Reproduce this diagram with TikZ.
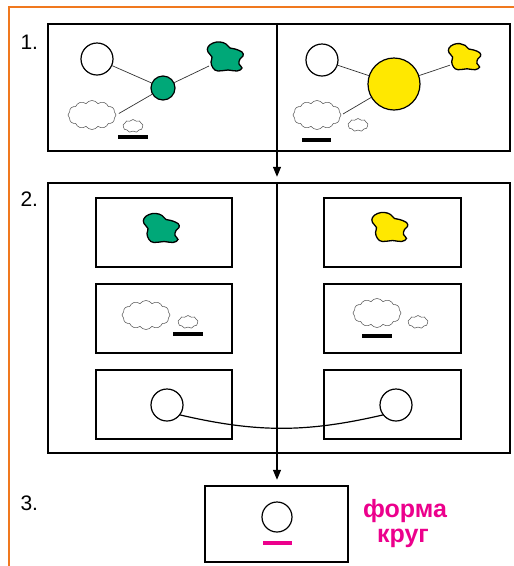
\documentclass[tikz,border=0pt]{standalone}
\usepackage{fontspec}
\setmainfont{Liberation Sans}
\usepackage{xcolor}
\definecolor{framecol}{RGB}{240,120,30}
\definecolor{leafgreen}{RGB}{0,168,120}
\definecolor{sunyellow}{RGB}{255,232,0}
\definecolor{hotpink}{RGB}{236,0,140}
\definecolor{darkgray}{HTML}{333333}
\usetikzlibrary{positioning,shapes.symbols,arrows.meta}

% irregular leaf-like spot, #1 = fill colour
\tikzset{pics/blob/.style={code={
    \draw[line width=1.3pt, fill=#1] plot[smooth cycle, tension=0.7] coordinates {
        (-20,-11) (-15,-15) (-8,-16) (-2,-14) (2,-10) (7,-9) (14,-6) (15,-2)
        (12,1) (11,6) (14,10) (9,13) (0,12) (-10,13) (-15,10) (-17,4)
        (-16,-1) (-20,-6)};
    \coordinate (-in) at (-19,8);
}}}

\begin{document}
\begin{tikzpicture}[x=1pt, y=-1pt, node distance=17pt,
    panel/.style={rectangle, draw, line width=2.4pt, inner sep=0pt},
    card/.style={rectangle, draw, line width=2.4pt, inner sep=0pt, outer sep=0pt,
        minimum width=136pt, minimum height=69pt},
    ball/.style={circle, draw, line width=1.2pt, fill=white, inner sep=0pt,
        minimum size=32pt},
    puff/.style={cloud, cloud puffs=12, cloud puff arc=110, draw=black!65,
        line width=0.55pt, aspect=1.6, inner sep=0pt,
        minimum width=48pt, minimum height=29pt},
    smallpuff/.style={puff, cloud puffs=9, minimum width=20pt, minimum height=13pt},
    link/.style={draw=darkgray, line width=0.7pt},
    bar/.style={line width=3.5pt},
    divider/.style={line width=1.6pt},
    flow/.style={line width=1.2pt, -{Triangle[length=10pt,width=8pt]}, shorten >=5pt},
    num/.style={font=\fontsize{21}{21}\selectfont, anchor=base west},
    word/.style={font=\fontsize{25}{25}\selectfont\bfseries, text=hotpink, anchor=base}]
    \useasboundingbox (0,0) rectangle (514,566);

    % margin rule
    \draw[framecol, line width=2.5pt] (9,566) -- (9,7) -- (514,7);
    \coordinate (mid) at (277,0);

    % step 1
    \node[num] (N1) at (17,49) {1.};
    \node[panel, minimum width=462pt, minimum height=127pt] (P1) at (279,87.5) {};
    \draw[divider] (P1.north -| mid) -- (P1.south -| mid);

    \node[ball] (W1) at (97,59) {};
    \node[ball, fill=leafgreen, minimum size=24pt] (G1) at (163,88) {};
    \pic (B1) at (228,58) {blob=leafgreen};
    \node[puff] (C1) at (92,115) {};
    \node[smallpuff] (S1) at (133,126) {};
    \draw[link] (W1) -- (G1);
    \draw[link] (G1) -- (B1-in);
    \draw[link, shorten >=3pt] (G1) -- (C1.east);
    \draw[bar] (118,137) -- (148,137);

    \node[ball] (W2) at (322,60) {};
    \node[ball, fill=sunyellow, minimum size=52pt] (Y1) at (394,84) {};
    \pic[scale=0.9] (B2) at (467,58) {blob=sunyellow};
    \node[puff] (C2) at (317,115) {};
    \node[smallpuff] (S2) at (358,125) {};
    \draw[link] (W2) -- (Y1);
    \draw[link] (Y1) -- (B2-in);
    \draw[link, shorten >=2pt] (Y1) -- (C2.east);
    \draw[bar] (302,140) -- (331,140);

    % step 2
    \node[num] (N2) at (17,206) {2.};
    \node[panel, minimum width=462pt, minimum height=270pt] (P2) at (279,318) {};
    \draw[divider] (P2.north -| mid) -- (P2.south -| mid);
    \draw[flow] (P1.south -| mid) -- (P2.north -| mid);

    \node[card] (L1) at (164,232.5) {};
    \node[card, below=of L1] (L2) {};
    \node[card, below=of L2] (L3) {};
    \node[card, minimum width=137pt, right=92pt of L1] (R1) {};
    \node[card, minimum width=137pt, below=of R1] (R2) {};
    \node[card, minimum width=137pt, below=of R2] (R3) {};

    \pic (B3) at ([yshift=3pt]L1.center) {blob=leafgreen};
    \pic (B4) at ([yshift=4pt]R1.center) {blob=sunyellow};

    \node[puff] (C3) at (146,315) {};
    \node[smallpuff] (S3) at (188,322) {};
    \draw[bar] (173,334) -- (203,334);
    \node[puff] (C4) at (377,313) {};
    \node[smallpuff] (S4) at (418,322) {};
    \draw[bar] (362,336) -- (392,336);

    \node[ball] (O1) at (167,405) {};
    \node[ball] (O2) at (396,405) {};
    \draw[line width=1.2pt] (O1.-37) to[out=-13, in=193] (O2.-143);

    % step 3
    \node[num] (N3) at (17,510) {3.};
    \node[panel, minimum width=143pt, minimum height=76pt] (P3) at (276.5,524) {};
    \draw[flow] (P2.south -| mid) -- (P3.north -| mid);
    \node[ball, minimum size=30pt] (O3) at (277,517) {};
    \draw[bar, hotpink] (263,543) -- (292,543);
    \node[word] (T1) at (405,517) {форма};
    \node[word] (T2) at (403,542) {круг};
\end{tikzpicture}
\end{document}
